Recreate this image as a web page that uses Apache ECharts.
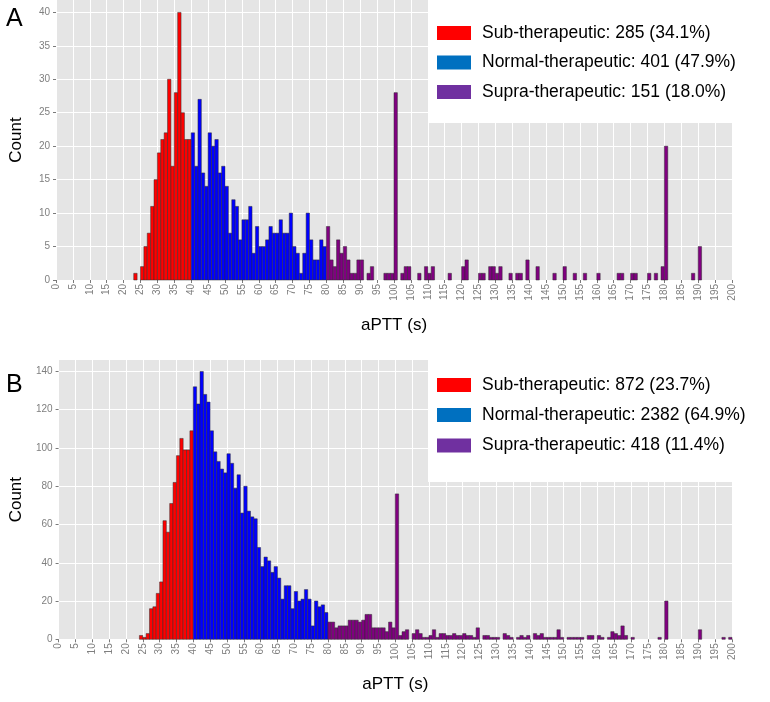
<!DOCTYPE html>
<html>
<head>
<meta charset="utf-8">
<title>aPTT histograms</title>
<script src="https://cdn.jsdelivr.net/npm/echarts@6/dist/echarts.min.js"></script>
<style>
  html, body { margin: 0; padding: 0; background: #fff; }
  #chart { width: 770px; height: 702px; }
</style>
</head>
<body>
<div id="chart"></div>
<script>
// bins are 1 s wide; each counts array starts at its start bin

// panel A
const subStartA = 23
const subCountsA = [1, 0, 2, 5, 7, 11, 15, 19, 21, 22, 30, 17, 28, 40, 25, 21, 21]
const normalStartA = 40
const normalCountsA = [
  22, 17, 27, 16, 14, 22, 20, 21, 16, 17,
  14, 7, 12, 11, 6, 9, 9, 11, 4, 8,
  5, 5, 6, 8, 7, 7, 9, 7, 7, 10,
  5, 4, 1, 4, 10, 6, 3, 3, 6, 5
]
const supraStartA = 80
const supraCountsA = [
  8, 3, 2, 6, 4, 5, 3, 1, 1, 3,
  3, 0, 1, 2, 0, 0, 0, 1, 1, 1,
  28, 0, 1, 2, 2, 0, 0, 1, 0, 2,
  1, 2, 0, 0, 0, 0, 1, 0, 0, 0,
  2, 3, 0, 0, 0, 1, 1, 0, 2, 2,
  1, 2, 0, 0, 1, 0, 1, 1, 0, 3,
  0, 0, 2, 0, 0, 0, 0, 1, 0, 0,
  2, 0, 0, 1, 0, 0, 1, 0, 0, 0,
  1, 0, 0, 0, 0, 0, 1, 1, 0, 0,
  1, 1, 0, 0, 0, 1, 0, 1, 0, 2,
  20, 0, 0, 0, 0, 0, 0, 0, 1, 0, 5
]
const yTicksA = [0, 5, 10, 15, 20, 25, 30, 35, 40]
const legendA = ['Sub-therapeutic: 285 (34.1%)', 'Normal-therapeutic: 401 (47.9%)', 'Supra-therapeutic: 151 (18.0%)']

// panel B
const subStartB = 24
const subCountsB = [2, 1, 3, 16, 17, 24, 30, 62, 56, 71, 82, 96, 105, 99, 99, 109]
const normalStartB = 40
const normalCountsB = [
  132, 123, 140, 128, 124, 109, 98, 93, 89, 87,
  97, 92, 79, 86, 66, 80, 67, 64, 63, 48,
  38, 43, 41, 35, 38, 32, 21, 28, 28, 16,
  25, 20, 21, 26, 21, 7, 20, 17, 18, 14
]
const supraStartB = 80
const supraCountsB = [
  9, 9, 6, 7, 7, 7, 10, 10, 10, 9,
  10, 13, 13, 6, 6, 6, 6, 4, 9, 6,
  76, 2, 4, 5, 0, 3, 5, 3, 1, 1,
  2, 5, 1, 3, 3, 2, 2, 3, 2, 2,
  3, 2, 2, 1, 6, 0, 2, 2, 1, 1,
  1, 0, 3, 2, 1, 0, 1, 2, 1, 2,
  0, 3, 2, 3, 1, 1, 1, 1, 5, 1,
  0, 1, 1, 1, 1, 1, 0, 2, 2, 0,
  2, 1, 0, 1, 4, 3, 2, 7, 2, 0,
  1, 0, 0, 0, 0, 0, 0, 0, 1, 0,
  20, 0, 0, 0, 0, 0, 0, 0, 0, 0,
  5, 0, 0, 0, 0, 0, 0, 1, 0, 1
]
const yTicksB = [0, 20, 40, 60, 80, 100, 120, 140]
const legendB = ['Sub-therapeutic: 872 (23.7%)', 'Normal-therapeutic: 2382 (64.9%)', 'Supra-therapeutic: 418 (11.4%)']

const xTitle = 'aPTT (s)'
const yTitle = 'Count'

const FONT = '"Liberation Sans", Arial, sans-serif'
const barFills = ['#ff0000', '#0000ff', '#800080']
const keyFills = ['#ff0000', '#0070c0', '#7030a0']

const chart = echarts.init(document.getElementById('chart'))

// one histogram group drawn as 1-unit wide rects on the value axes
const histSeries = (name, start, counts, fill, gi) => ({
  type: 'custom',
  name: name,
  xAxisIndex: gi,
  yAxisIndex: gi,
  encode: { x: 0, y: 1 },
  data: counts.map((c, i) => [start + i, c]).filter(d => d[1] > 0),
  renderItem: (params, api) => {
    const top = api.coord([api.value(0), api.value(1)])
    const base = api.coord([api.value(0) + 1, 0])
    return {
      type: 'rect',
      shape: { x: top[0], y: top[1], width: base[0] - top[0], height: base[1] - top[1] },
      style: { fill: fill, stroke: '#2e2e2e', lineWidth: 0.5 }
    }
  }
})

const xAxisFor = (gi) => ({
  gridIndex: gi,
  type: 'value',
  min: 0,
  max: 200,
  interval: 5,
  axisLine: { show: false },
  axisTick: { show: true, length: 3, lineStyle: { color: '#7a7a7a' } },
  axisLabel: { rotate: 90, fontSize: 10, color: '#7f7f7f', margin: 4, fontFamily: FONT },
  splitLine: { show: true, lineStyle: { color: '#ffffff', width: 1 } },
  name: xTitle,
  nameLocation: 'middle',
  nameGap: 37,
  nameTextStyle: { fontSize: 17, color: '#000', fontFamily: FONT }
})

const yAxisFor = (gi, max, step, ticks) => ({
  gridIndex: gi,
  type: 'value',
  min: 0,
  max: max,
  interval: step,
  axisLine: { show: false },
  axisTick: { show: true, length: 3, customValues: ticks, lineStyle: { color: '#7a7a7a' } },
  axisLabel: { fontSize: 10, color: '#7f7f7f', margin: 6, fontFamily: FONT, customValues: ticks },
  splitLine: { show: true, lineStyle: { color: '#ffffff', width: 1 } },
  name: yTitle,
  nameLocation: 'middle',
  nameRotate: 90,
  nameGap: 31,
  nameTextStyle: { fontSize: 17, color: '#000', fontFamily: FONT }
})

// white key box with swatches, placed over the panel
const keyBox = (boxTop, boxHeight, rowY, labels) => {
  const els = [{
    type: 'rect', z: 100,
    shape: { x: 428, y: boxTop, width: 342, height: boxHeight },
    style: { fill: '#ffffff' }
  }]
  labels.forEach((label, i) => {
    els.push({
      type: 'rect', z: 101,
      shape: { x: 437, y: rowY[i] - 7, width: 34, height: 14 },
      style: { fill: keyFills[i] }
    })
    els.push({
      type: 'text', z: 101, x: 482, y: rowY[i],
      style: { text: label, fill: '#000', font: '17.5px ' + FONT, verticalAlign: 'middle' }
    })
  })
  return els
}

const option = {
  animation: false,
  backgroundColor: '#ffffff',
  grid: [
    { left: 56, right: 38, top: 0, height: 280, show: true, backgroundColor: '#e5e5e5', borderWidth: 0 },
    { left: 56, right: 38, top: 360, height: 279.3, show: true, backgroundColor: '#e5e5e5', borderWidth: 0 }
  ],
  xAxis: [xAxisFor(0), xAxisFor(1)],
  yAxis: [yAxisFor(0, 41.85, 5, yTicksA), yAxisFor(1, 146, 20, yTicksB)],
  series: [
    histSeries(legendA[0], subStartA, subCountsA, barFills[0], 0),
    histSeries(legendA[1], normalStartA, normalCountsA, barFills[1], 0),
    histSeries(legendA[2], supraStartA, supraCountsA, barFills[2], 0),
    histSeries(legendB[0], subStartB, subCountsB, barFills[0], 1),
    histSeries(legendB[1], normalStartB, normalCountsB, barFills[1], 1),
    histSeries(legendB[2], supraStartB, supraCountsB, barFills[2], 1)
  ],
  graphic: [
    ...keyBox(0, 123, [33, 62.5, 92], legendA),
    ...keyBox(360, 122, [385, 415, 445.5], legendB),
    { type: 'text', x: 6, y: 19, z: 101, style: { text: 'A', fill: '#000', font: '25px ' + FONT, verticalAlign: 'middle' } },
    { type: 'text', x: 6, y: 385, z: 101, style: { text: 'B', fill: '#000', font: '25px ' + FONT, verticalAlign: 'middle' } }
  ]
}

chart.setOption(option)
window.addEventListener('resize', () => chart.resize())
</script>
</body>
</html>
